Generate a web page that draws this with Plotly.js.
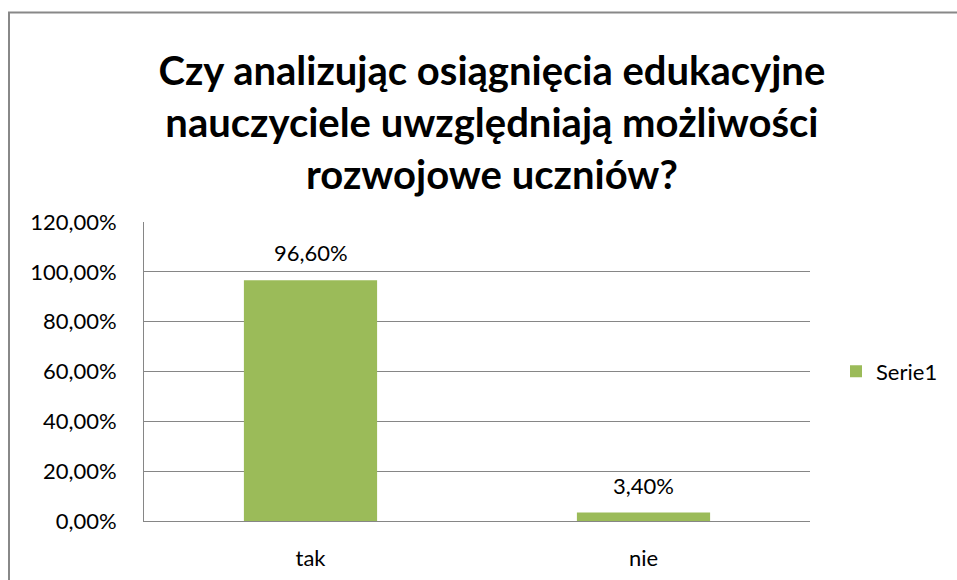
<!DOCTYPE html>
<html>
<head>
<meta charset="utf-8">
<script src="https://cdn.plot.ly/plotly-3.0.1.min.js"></script>
<style>
  html, body { margin: 0; padding: 0; background: #fff; }
  #chart { width: 957px; height: 580px; }
</style>
</head>
<body>
<div id="chart"></div>
<script>
const categories = ['tak', 'nie'];
const values = [0.966, 0.034];
const valueLabels = ['96,60%', '3,40%'];
const seriesName = 'Serie1';
const titleLines = [
  'Czy analizując osiągnięcia edukacyjne',
  'nauczyciele uwzględniają możliwości',
  'rozwojowe uczniów?',
];

const FONT = 'Lato, "Open Sans", sans-serif';
const GRID = '#868686';

function drawChart() {
  const data = [{
    type: 'bar',
    name: seriesName,
    x: categories,
    y: values,
    marker: { color: '#9BBB59' },
    hoverinfo: 'none',
  }];

  const annotations = categories.map((c, i) => ({
    x: c,
    y: values[i],
    xref: 'x',
    yref: 'y',
    text: valueLabels[i],
    showarrow: false,
    yanchor: 'bottom',
    yshift: 12,
    font: { family: FONT, size: 22, color: '#000' },
  }));

  // chart frame (paper coords relative to the plot area)
  const l = 144, r = 147, t = 222, b = 59;
  const pw = 957 - l - r;
  const ph = 580 - t - b;
  const px = (v) => (v - l) / pw;
  const py = (v) => (580 - b - v) / ph;

  const layout = {
    width: 957,
    height: 580,
    margin: { l, r, t, b },
    paper_bgcolor: '#fff',
    plot_bgcolor: '#fff',
    separators: ', ',
    font: { family: FONT, size: 22, color: '#000' },
    title: {
      text: titleLines.join('<br>'),
      font: { family: FONT, size: 40, color: '#000', weight: 'bold' },
      xref: 'container',
      x: 0.514,
      xanchor: 'center',
      yref: 'container',
      y: 1 - 85 / 580,
      yanchor: 'middle',
    },
    bargap: 0.6,
    showlegend: true,
    legend: {
      x: px(836),
      xanchor: 'left',
      y: 0.5,
      yanchor: 'middle',
      font: { family: FONT, size: 22, color: '#000' },
      itemwidth: 30,
      bgcolor: 'rgba(0,0,0,0)',
    },
    xaxis: {
      type: 'category',
      showgrid: false,
      showline: true,
      linecolor: GRID,
      linewidth: 1,
      ticks: 'outside',
      ticklen: 18,
      tickcolor: 'rgba(0,0,0,0)',
      tickfont: { family: FONT, size: 22, color: '#000' },
      fixedrange: true,
    },
    yaxis: {
      range: [0, 1.2],
      dtick: 0.2,
      tick0: 0,
      tickformat: '.2%',
      showgrid: true,
      gridcolor: GRID,
      gridwidth: 1,
      zeroline: false,
      showline: true,
      linecolor: GRID,
      linewidth: 1,
      ticks: 'outside',
      ticklen: 22,
      tickcolor: 'rgba(0,0,0,0)',
      tickfont: { family: FONT, size: 22, color: '#000' },
      fixedrange: true,
    },
    annotations,
    shapes: [{
      type: 'rect',
      xref: 'paper',
      yref: 'paper',
      x0: px(9),
      x1: px(980),
      y0: py(600),
      y1: py(12.5),
      line: { color: '#888', width: 2 },
      fillcolor: 'rgba(0,0,0,0)',
      layer: 'below',
    }],
  };

  const config = { staticPlot: true, displayModeBar: false };
  Plotly.newPlot('chart', data, layout, config);
}

drawChart();
</script>
</body>
</html>
